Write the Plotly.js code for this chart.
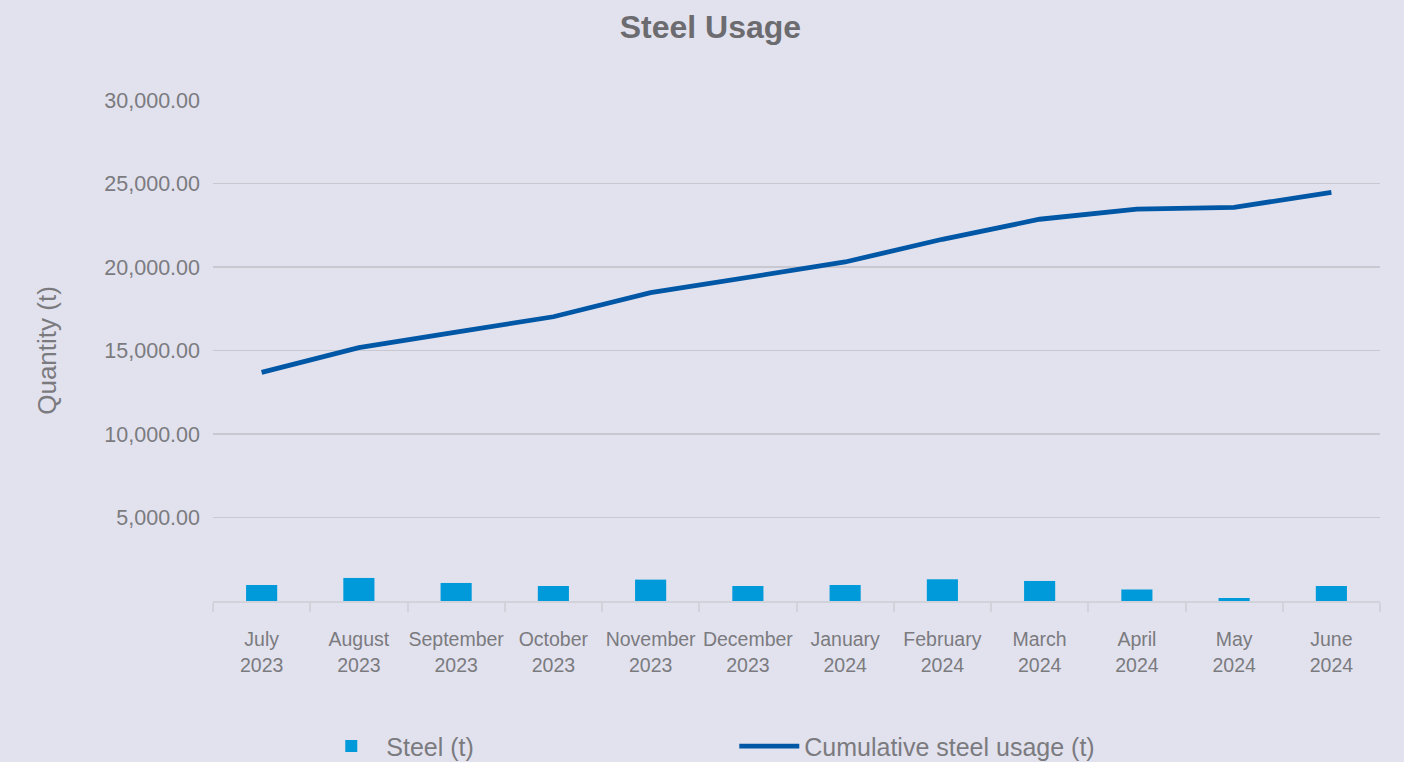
<!DOCTYPE html>
<html>
<head>
<meta charset="utf-8">
<script src="https://cdn.plot.ly/plotly-3.0.1.min.js"></script>
<style>
  html, body { margin: 0; padding: 0; background: #e2e2ee; }
  #chart { width: 1404px; height: 762px; }
</style>
</head>
<body>
<div id="chart"></div>
<script>
const months = ["July<br>2023", "August<br>2023", "September<br>2023", "October<br>2023", "November<br>2023", "December<br>2023", "January<br>2024", "February<br>2024", "March<br>2024", "April<br>2024", "May<br>2024", "June<br>2024"];
const steel = [960, 1380, 1080, 900, 1280, 900, 960, 1300, 1200, 690, 180, 900];
const cumulative = [13690, 15170, 16100, 17020, 18460, 19360, 20300, 21660, 22860, 23470, 23570, 24470];
const yTicks = [5000, 10000, 15000, 20000, 25000, 30000];

const grey = "#7b7b7f";
const font = "Liberation Sans, Arial, sans-serif";

const traces = [
  {
    type: "bar",
    name: "Steel (t)",
    x: months,
    y: steel,
    width: 0.32,
    marker: { color: "#009ada" },
    hoverinfo: "x+y"
  },
  {
    type: "scatter",
    mode: "lines",
    name: "Cumulative steel usage (t)",
    x: months,
    y: cumulative,
    line: { color: "#0057a6", width: 4.8 }
  }
];

const layout = {
  width: 1404,
  height: 762,
  paper_bgcolor: "#e2e2ee",
  plot_bgcolor: "#e2e2ee",
  margin: { l: 213, r: 24, t: 100, b: 161, autoexpand: false },
  font: { family: font, color: grey, size: 19 },
  title: {
    text: "<b>Steel Usage</b>",
    font: { family: font, size: 32, color: "#6c6c70" },
    x: 0.506, xanchor: "center",
    y: 0.965, yanchor: "middle"
  },
  showlegend: true,
  legend: {
    orientation: "h",
    x: 0.0885, xref: "paper", xanchor: "left",
    y: -0.29, yanchor: "middle",
    font: { family: font, size: 25, color: grey },
    entrywidth: 343,
    entrywidthmode: "pixels",
    itemwidth: 60,
    bgcolor: "rgba(0,0,0,0)"
  },
  xaxis: {
    type: "category",
    showgrid: false,
    showline: true,
    linecolor: "#d2d2da",
    linewidth: 2,
    ticks: "outside",
    tickson: "boundaries",
    ticklen: 9,
    tickcolor: "#d2d2da",
    tickwidth: 2,
    tickangle: 0,
    ticklabelstandoff: 20,
    tickfont: { family: font, size: 19.5, color: grey },
    zeroline: false,
    automargin: false,
    fixedrange: true
  },
  yaxis: {
    range: [0, 30000],
    tickvals: yTicks,
    tickformat: ",.2f",
    showgrid: true,
    gridcolor: "#c8c8d0",
    gridwidth: 1.2,
    zeroline: false,
    showline: false,
    ticks: "",
    ticklabelstandoff: 12,
    tickfont: { family: font, size: 21.5, color: grey },
    title: {
      text: "Quantity (t)",
      font: { family: font, size: 26, color: grey },
      standoff: 40
    },
    automargin: false,
    fixedrange: true
  }
};

Plotly.newPlot("chart", traces, layout, { displayModeBar: false, staticPlot: true });
</script>
</body>
</html>
